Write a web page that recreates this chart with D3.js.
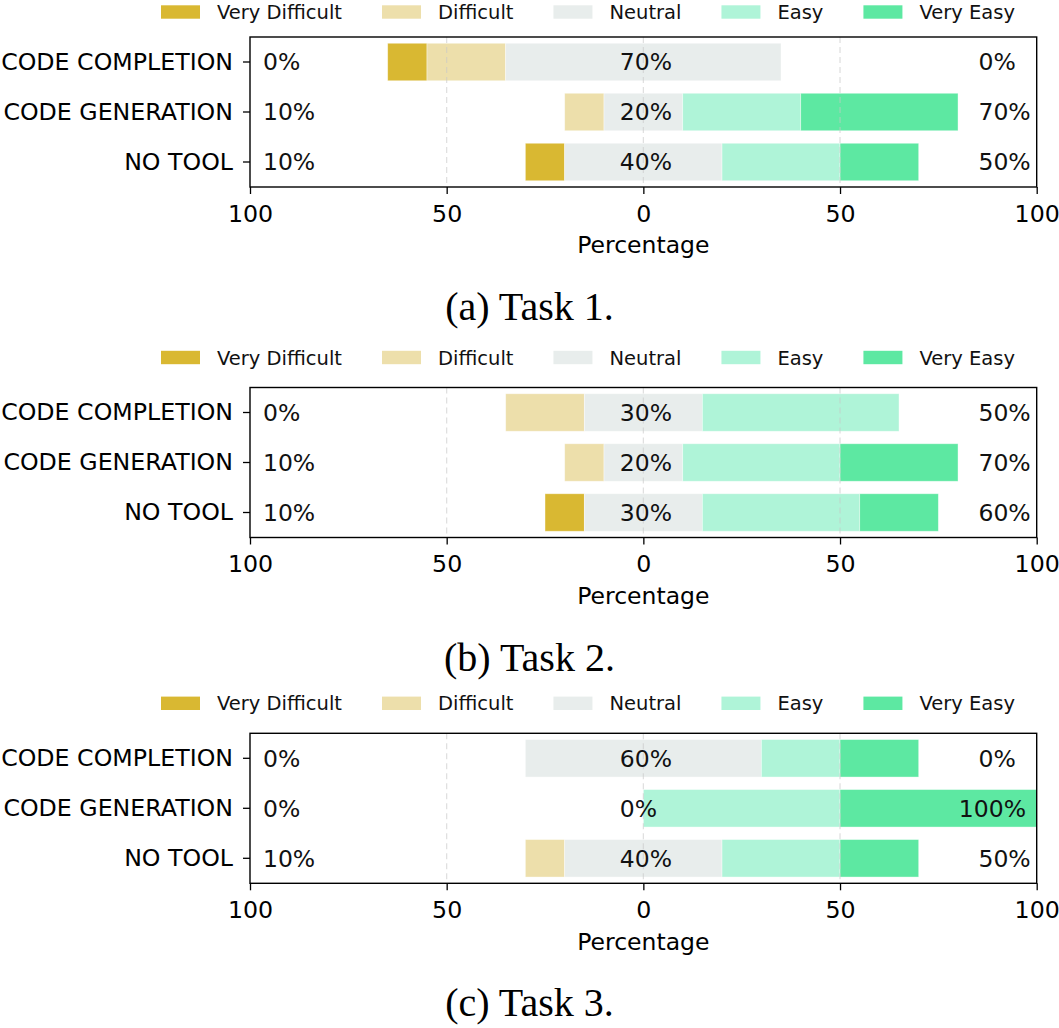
<!DOCTYPE html>
<html>
<head>
  <meta charset="utf-8">
  <script src="https://cdn.jsdelivr.net/npm/d3@7/dist/d3.min.js"></script>
  <style>
    body { margin: 0; background: #fff; }
    svg { display: block; font-family: "DejaVu Sans", sans-serif; }
  </style>
</head>
<body>
  <svg id="chart" width="1059" height="1028"></svg>
  <script>
    // categories and answer levels
    var categories = ["CODE COMPLETION", "CODE GENERATION", "NO TOOL"];
    var levels = ["Very Difficult", "Difficult", "Neutral", "Easy", "Very Easy"];
    var levelColors = ["#d9b832", "#eddfab", "#e8edec", "#aff4d8", "#5de8a2"];
    var tickValues = [-100, -50, 0, 50, 100];
    var gridValues = [-50, 0, 50];
    var captions = ["(a) Task 1.", "(b) Task 2.", "(c) Task 3."];

    // Task 1 (one value per category)
    var t1VeryDifficult = [10, 0, 10];
    var t1Difficult     = [20, 10, 0];
    var t1Neutral       = [70, 20, 40];
    var t1Easy          = [0, 30, 30];
    var t1VeryEasy      = [0, 40, 20];
    var t1Left  = ["0%", "10%", "10%"];
    var t1Mid   = ["70%", "20%", "40%"];
    var t1Right = ["0%", "70%", "50%"];

    // Task 2
    var t2VeryDifficult = [0, 0, 10];
    var t2Difficult     = [20, 10, 0];
    var t2Neutral       = [30, 20, 30];
    var t2Easy          = [50, 40, 40];
    var t2VeryEasy      = [0, 30, 20];
    var t2Left  = ["0%", "10%", "10%"];
    var t2Mid   = ["30%", "20%", "30%"];
    var t2Right = ["50%", "70%", "60%"];

    // Task 3
    var t3VeryDifficult = [0, 0, 0];
    var t3Difficult     = [0, 0, 10];
    var t3Neutral       = [60, 0, 40];
    var t3Easy          = [20, 50, 30];
    var t3VeryEasy      = [20, 50, 20];
    var t3Left  = ["0%", "0%", "10%"];
    var t3Mid   = ["60%", "0%", "40%"];
    var t3Right = ["0%", "100%", "50%"];

    var tasks = [
      { series: [t1VeryDifficult, t1Difficult, t1Neutral, t1Easy, t1VeryEasy], left: t1Left, mid: t1Mid, right: t1Right },
      { series: [t2VeryDifficult, t2Difficult, t2Neutral, t2Easy, t2VeryEasy], left: t2Left, mid: t2Mid, right: t2Right },
      { series: [t3VeryDifficult, t3Difficult, t3Neutral, t3Easy, t3VeryEasy], left: t3Left, mid: t3Mid, right: t3Right }
    ];

    var svg = d3.select("#chart");
    var panelTops = [37, 387.5, 733.3];
    var plotH = 150;

    var x = d3.scaleLinear().domain([-100, 100]).range([250, 1036.7]);
    var colorScale = d3.scaleOrdinal().domain(levels).range(levelColors);

    tasks.forEach(function(task, p) {
      var top = panelTops[p];
      var bottom = top + plotH;
      var g = svg.append("g");

      var y = d3.scaleBand().domain(categories).range([top, bottom])
        .paddingInner(0.25).paddingOuter(0.125);

      // build segments: neutral centered on zero
      var segs = [];
      categories.forEach(function(c, i) {
        var start = -(task.series[0][i] + task.series[1][i] + task.series[2][i] / 2);
        levels.forEach(function(l, k) {
          var v = task.series[k][i];
          if (v > 0) segs.push({ cat: c, level: l, x0: start, x1: start + v });
          start += v;
        });
      });

      g.selectAll("rect.bar")
        .data(segs)
        .enter()
        .append("rect")
        .attr("class", "bar")
        .attr("x", function(d) { return x(d.x0); })
        .attr("y", function(d) { return y(d.cat); })
        .attr("width", function(d) { return x(d.x1) - x(d.x0); })
        .attr("height", y.bandwidth())
        .attr("fill", function(d) { return colorScale(d.level); })
        .attr("stroke", "#fff")
        .attr("stroke-opacity", 0.5)
        .attr("stroke-width", 0.8);

      // dashed grid on top, faint
      g.selectAll("line.grid")
        .data(gridValues)
        .enter()
        .append("line")
        .attr("x1", function(d) { return x(d); })
        .attr("x2", function(d) { return x(d); })
        .attr("y1", top)
        .attr("y2", bottom)
        .attr("stroke", "#c8c8c8")
        .attr("stroke-opacity", 0.6)
        .attr("stroke-width", 1.2)
        .attr("stroke-dasharray", "6,4");

      // percentage labels
      var labelFont = "23.5px";
      categories.forEach(function(c, i) {
        var cy = y(c) + y.bandwidth() / 2;
        g.append("text").attr("x", x(-96.7)).attr("y", cy).attr("dy", "0.36em")
          .attr("font-size", labelFont).attr("fill", "#111").text(task.left[i]);
        g.append("text").attr("x", x(-6)).attr("y", cy).attr("dy", "0.36em")
          .attr("font-size", labelFont).attr("fill", "#111").text(task.mid[i]);
        g.append("text").attr("x", x(task.right[i].length > 3 ? 80.2 : 85.2)).attr("y", cy).attr("dy", "0.36em")
          .attr("font-size", labelFont).attr("fill", "#111").text(task.right[i]);
      });

      // frame
      g.append("rect")
        .attr("x", x(-100)).attr("y", top)
        .attr("width", x(100) - x(-100)).attr("height", plotH)
        .attr("fill", "none").attr("stroke", "#000").attr("stroke-width", 1.4);

      // axes
      var xAxis = g.append("g")
        .attr("transform", "translate(0," + bottom + ")")
        .call(d3.axisBottom(x).tickValues(tickValues).tickSize(7).tickPadding(11)
          .tickFormat(function(d) { return Math.abs(d); }));
      var yAxis = g.append("g")
        .attr("transform", "translate(" + x(-100) + ",0)")
        .call(d3.axisLeft(y).tickSize(7).tickPadding(10));
      [xAxis, yAxis].forEach(function(a) {
        a.select(".domain").remove();
        a.selectAll(".tick line").attr("stroke", "#000").attr("stroke-width", 1.3);
        a.selectAll(".tick text").attr("font-size", "23.7px").attr("font-family", "DejaVu Sans").attr("fill", "#000");
      });

      g.append("text")
        .attr("x", x(0)).attr("y", bottom + 58).attr("dy", "0.36em")
        .attr("text-anchor", "middle").attr("font-size", "23.5px")
        .text("Percentage");

      // legend, laid out by measured text widths (kept inside the page at the top)
      var lx = 161;
      var ly = Math.max(top - 30, 12);
      levels.forEach(function(l, k) {
        g.append("rect").attr("x", lx).attr("y", ly - 6.7).attr("width", 39).attr("height", 13.4)
          .attr("fill", levelColors[k]);
        var t = g.append("text").attr("x", lx + 56).attr("y", ly).attr("dy", "0.36em")
          .attr("font-size", "19.5px").attr("fill", "#111").text(l);
        lx += 56 + t.node().getComputedTextLength() + 40;
      });

      // caption
      svg.append("text")
        .attr("x", 529.5).attr("y", bottom + 133)
        .attr("text-anchor", "middle")
        .attr("font-family", "'Liberation Serif', 'Times New Roman', serif")
        .attr("font-size", "40px")
        .text(captions[p]);
    });
  </script>
</body>
</html>
